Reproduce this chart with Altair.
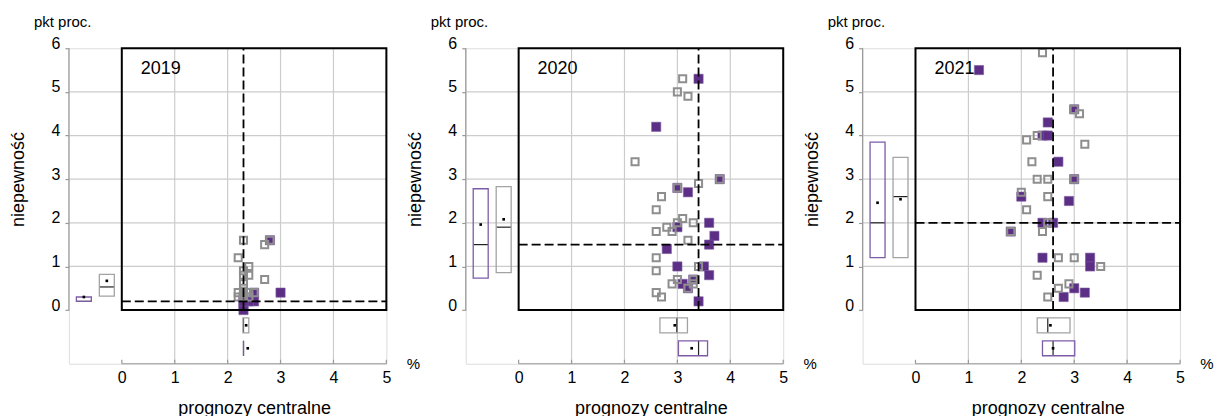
import altair as alt
import pandas as pd

years = ["2019", "2020", "2021"]
x_ticks = [0, 1, 2, 3, 4, 5]
y_ticks = [0, 1, 2, 3, 4, 5, 6]
x_grid = [1, 2, 3, 4]
y_grid = [1, 2, 3, 4, 5]

# scatter: central forecast (x) vs uncertainty (y)
purple_x_2019 = [2.8, 3.0, 2.5, 2.5, 2.3, 2.3, 2.3, 2.4, 2.3]
purple_y_2019 = [1.6, 0.4, 0.4, 0.2, 0.1, 0.0, 0.3, 0.2, 0.2]
grey_x_2019 = [2.3, 2.7, 2.8, 2.2, 2.4, 2.3, 2.3, 2.4, 2.7, 2.3, 2.3, 2.2, 2.2, 2.3, 2.4, 2.3, 2.4, 2.5]
grey_y_2019 = [1.6, 1.5, 1.6, 1.2, 1.0, 0.9, 0.8, 0.8, 0.7, 0.6, 0.5, 0.4, 0.3, 0.4, 0.4, 0.3, 0.3, 0.4]

purple_x_2020 = [3.4, 2.6, 3.8, 3.0, 3.2, 3.6, 3.0, 3.7, 3.6, 2.8, 3.0, 3.5, 3.6, 3.3, 3.1, 3.2, 3.4]
purple_y_2020 = [5.3, 4.2, 3.0, 2.8, 2.7, 2.0, 1.9, 1.7, 1.5, 1.4, 1.0, 1.0, 0.8, 0.7, 0.6, 0.5, 0.2]
grey_x_2020 = [3.1, 3.0, 3.2, 2.2, 3.8, 3.0, 3.4, 2.7, 2.6, 3.1, 3.0, 3.3, 2.6, 2.8, 2.9, 3.2,
               2.6, 2.6, 3.4, 3.0, 2.9, 3.3, 3.2, 3.3, 2.6, 2.7]
grey_y_2020 = [5.3, 5.0, 4.9, 3.4, 3.0, 2.8, 2.9, 2.6, 2.3, 2.1, 2.0, 2.0, 1.8, 1.9, 1.8, 1.6,
               1.2, 0.9, 1.0, 0.7, 0.6, 0.6, 0.5, 0.7, 0.4, 0.3]

purple_x_2021 = [1.2, 3.0, 2.5, 2.4, 2.5, 2.7, 3.0, 2.0, 2.9, 2.4, 2.6, 1.8, 2.4, 3.3, 3.3, 3.0, 3.2, 2.8]
purple_y_2021 = [5.5, 4.6, 4.3, 4.0, 4.0, 3.4, 3.0, 2.6, 2.5, 2.0, 2.0, 1.8, 1.2, 1.2, 1.0, 0.5, 0.4, 0.3]
grey_x_2021 = [2.4, 3.1, 3.0, 2.3, 2.1, 3.2, 2.2, 2.3, 2.5, 3.0, 2.0, 2.5, 2.1, 2.5, 2.4, 1.8,
               2.7, 3.0, 3.5, 2.3, 2.9, 2.7, 2.5]
grey_y_2021 = [5.9, 4.5, 4.6, 4.0, 3.9, 3.8, 3.4, 3.0, 3.0, 3.0, 2.7, 2.6, 2.3, 2.0, 1.8, 1.8,
               1.2, 1.2, 1.0, 0.8, 0.6, 0.5, 0.3]

purple_x = [purple_x_2019, purple_x_2020, purple_x_2021]
purple_y = [purple_y_2019, purple_y_2020, purple_y_2021]
grey_x = [grey_x_2019, grey_x_2020, grey_x_2021]
grey_y = [grey_y_2019, grey_y_2020, grey_y_2021]

# box summaries of uncertainty (left boxes)
unc_q1_purple = [0.2, 0.73, 1.2]
unc_med_purple = [0.2, 1.5, 2.0]
unc_q3_purple = [0.3, 2.78, 3.85]
unc_mean_purple = [0.3, 1.96, 2.46]
unc_q1_grey = [0.32, 0.86, 1.2]
unc_med_grey = [0.53, 1.9, 2.6]
unc_q3_grey = [0.82, 2.83, 3.5]
unc_mean_grey = [0.67, 2.08, 2.54]
# box summaries of central forecasts (bottom boxes)
cen_q1_purple = [2.3, 3.02, 2.4]
cen_med_purple = [2.3, 3.4, 2.6]
cen_q3_purple = [2.3, 3.57, 3.01]
cen_mean_purple = [2.38, 3.27, 2.6]
cen_q1_grey = [2.29, 2.67, 2.3]
cen_med_grey = [2.3, 2.99, 2.5]
cen_q3_grey = [2.4, 3.19, 2.92]
cen_mean_grey = [2.35, 2.95, 2.55]

W, H = 318, 316
PURPLE = "#5c2e85"
PURPLE_LINE = "#7d5ca6"
GREY = "#8e8e8e"
GREY_LINE = "#a3a3a3"
GRID = "#cccccc"
AXIS = "#9a9a9a"
FONT = "Liberation Sans"

xs = alt.Scale(domain=[-1, 5], nice=False, zero=False)
ys = alt.Scale(domain=[-1.23, 6], nice=False, zero=False)

x_axis = alt.Axis(
    values=x_ticks, title="prognozy centralne", domain=False, ticks=False, grid=False,
    labelFontSize=16, labelColor="black", labelPadding=6, labelFlush=False,
    titleFontSize=18, titleFontWeight="normal", titleColor="black",
    titleX=185.5, titleY=50, titleBaseline="alphabetic", titleAlign="center",
)
y_axis = alt.Axis(
    values=y_ticks, title="niepewność", domain=False, ticks=True, tickSize=4,
    tickColor=AXIS, tickWidth=1.2, grid=False,
    labelFontSize=16, labelColor="black", labelPadding=5, labelBaseline="alphabetic",
    labelFlush=False,
    titleFontSize=18, titleFontWeight="normal", titleColor="black",
    titleX=-50, titleY=131, titleAngle=270, titleAlign="center", titleBaseline="middle",
)


def X(f):
    return alt.X(f, type="quantitative", scale=xs)


def Y(f):
    return alt.Y(f, type="quantitative", scale=ys)


def panel(i):
    frame = pd.DataFrame({
        "x0": [x_ticks[0]], "x1": [x_ticks[-1]],
        "y0": [y_ticks[0]], "y1": [y_ticks[-1]],
        "vx": [cen_med_purple[i]], "hy": [unc_med_purple[i]],
    })
    ticks = pd.DataFrame({"t": x_ticks})
    gx = pd.DataFrame({"g": x_grid})
    gy = pd.DataFrame({"g": y_grid})
    pp = pd.DataFrame({"x": purple_x[i], "y": purple_y[i]})
    pg = pd.DataFrame({"x": grey_x[i], "y": grey_y[i]})
    labels = pd.DataFrame({"year": [years[i]], "unit_y": ["pkt proc."], "unit_x": ["%"]})

    layers = []
    # axis-carrying layer (invisible)
    layers.append(alt.Chart(frame).mark_rect(fillOpacity=0, strokeOpacity=0).encode(
        x=alt.X("x0:Q", scale=xs, axis=x_axis), x2="x1",
        y=alt.Y("y0:Q", scale=ys, axis=y_axis), y2="y1"))
    # grid lines
    layers.append(alt.Chart(gx).mark_rule(color=GRID, strokeWidth=1.2).encode(
        x=X("g"), y=alt.value(0), y2=alt.value(H)))
    layers.append(alt.Chart(gy).mark_rule(color=GRID, strokeWidth=1.2).encode(
        y=Y("g"), x=alt.value(0), x2=alt.value(W)))
    # axis lines
    layers.append(alt.Chart(frame).mark_rule(color=AXIS, strokeWidth=1.2).encode(
        x=alt.value(0), y=Y("y0"), y2="y1"))
    layers.append(alt.Chart(frame).mark_rule(color=AXIS, strokeWidth=1.2).encode(
        y=alt.value(H), x=X("x0"), x2="x1"))
    layers.append(alt.Chart(ticks).mark_rule(color=AXIS, strokeWidth=1.2).encode(
        x=X("t"), y=alt.value(H - 4), y2=alt.value(H)))
    # points
    layers.append(alt.Chart(pp).mark_square(size=85, color=PURPLE, opacity=1,
                                            stroke="#7a5aa0", strokeWidth=0.6).encode(
        x=X("x"), y=Y("y")))
    layers.append(alt.Chart(pg).mark_square(size=50, filled=False, color=GREY,
                                            strokeWidth=2, opacity=1).encode(
        x=X("x"), y=Y("y")))
    # dashed reference lines
    layers.append(alt.Chart(frame).mark_rule(color="black", strokeWidth=1.8,
                                             strokeDash=[9, 4]).encode(
        x=X("vx"), y=Y("y0"), y2="y1"))
    layers.append(alt.Chart(frame).mark_rule(color="black", strokeWidth=1.8,
                                             strokeDash=[9, 4]).encode(
        y=Y("hy"), x=X("x0"), x2="x1"))
    # frame
    layers.append(alt.Chart(frame).mark_rect(fillOpacity=0, stroke="black", strokeWidth=2).encode(
        x=X("x0"), x2="x1", y=Y("y0"), y2="y1"))

    # box summaries
    groups = [
        (unc_q1_purple, unc_med_purple, unc_q3_purple, unc_mean_purple,
         cen_q1_purple, cen_med_purple, cen_q3_purple, cen_mean_purple,
         PURPLE_LINE, (7.5, 22.5), (293, 308)),
        (unc_q1_grey, unc_med_grey, unc_q3_grey, unc_mean_grey,
         cen_q1_grey, cen_med_grey, cen_q3_grey, cen_mean_grey,
         GREY_LINE, (30.5, 45.5), (270, 285)),
    ]
    for (uq1, umed, uq3, umean, cq1, cmed, cq3, cmean, col, xpx, ypx) in groups:
        bd = pd.DataFrame({
            "uq1": [uq1[i]], "umed": [umed[i]], "uq3": [uq3[i]], "umean": [umean[i]],
            "cq1": [cq1[i]], "cmed": [cmed[i]], "cq3": [cq3[i]], "cmean": [cmean[i]],
        })
        # left (uncertainty)
        layers.append(alt.Chart(bd).mark_rule(color="#222222", strokeWidth=1.2).encode(
            x=alt.value(xpx[0]), x2=alt.value(xpx[1]), y=Y("umed")))
        layers.append(alt.Chart(bd).mark_rect(fillOpacity=0, stroke=col, strokeWidth=1.3).encode(
            x=alt.value(xpx[0]), x2=alt.value(xpx[1]), y=Y("uq1"), y2="uq3"))
        layers.append(alt.Chart(bd).mark_square(size=7, color="black", opacity=1).encode(
            x=alt.value((xpx[0] + xpx[1]) / 2), y=Y("umean")))
        # bottom (central forecasts)
        layers.append(alt.Chart(bd).mark_rule(color="#222222", strokeWidth=1.2).encode(
            x=X("cmed"), y=alt.value(ypx[0]), y2=alt.value(ypx[1])))
        layers.append(alt.Chart(bd).mark_rect(fillOpacity=0, stroke=col, strokeWidth=1.3).encode(
            x=X("cq1"), x2="cq3", y=alt.value(ypx[0]), y2=alt.value(ypx[1])))
        layers.append(alt.Chart(bd).mark_square(size=7, color="black", opacity=1).encode(
            x=X("cmean"), y=alt.value((ypx[0] + ypx[1]) / 2)))

    # texts
    layers.append(alt.Chart(labels).mark_text(align="left", baseline="alphabetic",
                                              fontSize=18, color="black").encode(
        text="year:N", x=alt.value(72), y=alt.value(26)))
    layers.append(alt.Chart(labels).mark_text(align="left", baseline="alphabetic",
                                              fontSize=15, color="black").encode(
        text="unit_y:N", x=alt.value(-35), y=alt.value(-21)))
    layers.append(alt.Chart(labels).mark_text(align="center", baseline="middle",
                                              fontSize=15, color="black").encode(
        text="unit_x:N", x=alt.value(345), y=alt.value(316)))

    return alt.layer(*layers).properties(width=W, height=H)


chart = alt.hconcat(*[panel(i) for i in range(3)], spacing=79.5, bounds="flush").properties(
    padding={"left": 9, "top": 14, "right": 0, "bottom": 0}
).configure_view(strokeWidth=0).configure(font=FONT)

chart.save("out.html", embed_options={"renderer": "svg", "actions": False})
